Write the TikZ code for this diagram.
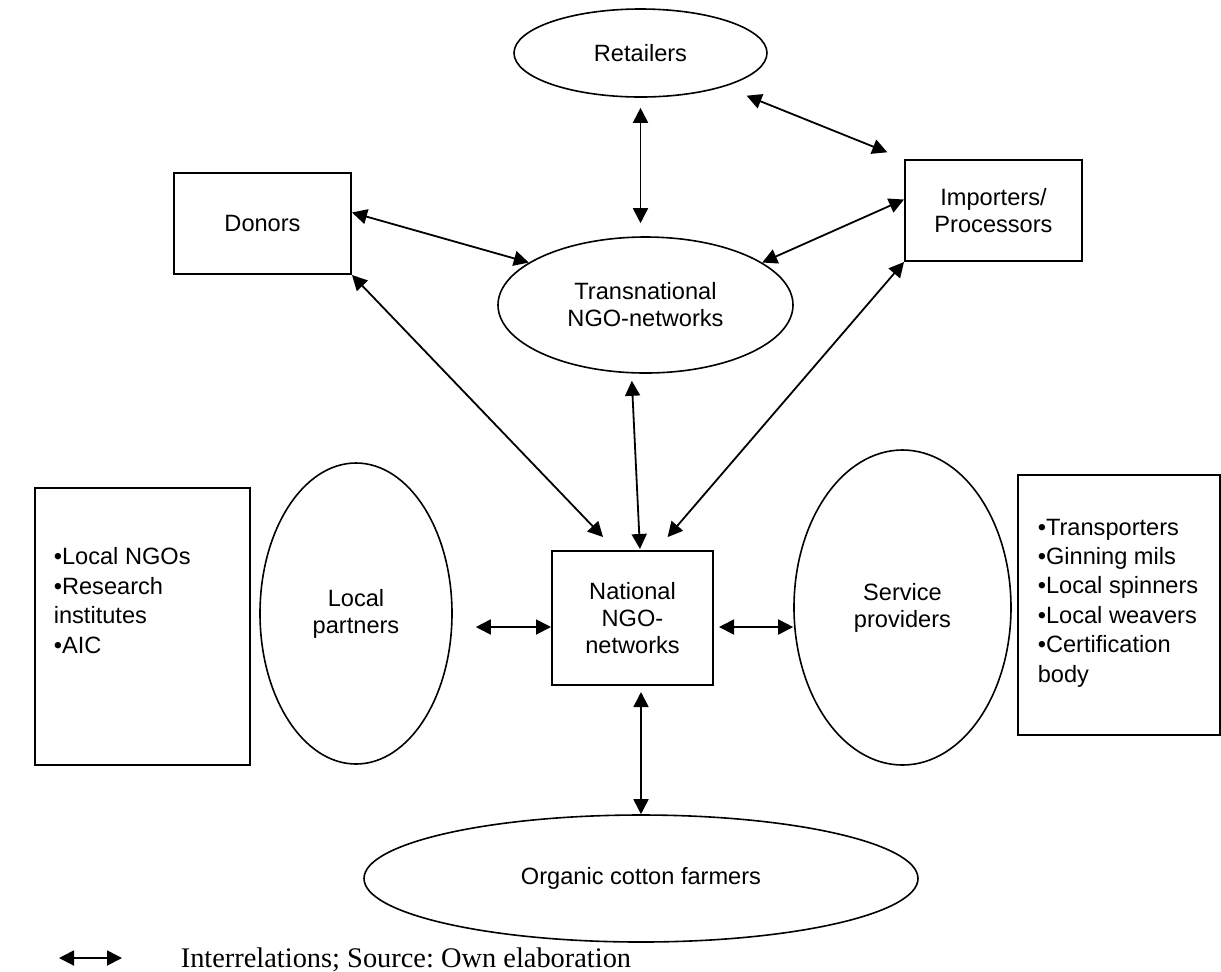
\documentclass[tikz,border=0pt]{standalone}
\usepackage{fontspec}
\setsansfont{Liberation Sans}
\newfontfamily\legendfont{Liberation Serif}
\usetikzlibrary{shapes.geometric, arrows.meta}
\newlength{\pu}
\setlength{\pu}{0.5pt}
\frenchspacing

\begin{document}
\begin{tikzpicture}[x=0.5pt, y=-0.5pt, line width=0.8pt,
      every node/.style={font=\sffamily\fontsize{11.8}{13.5}\selectfont, inner sep=0pt, align=center},
      oval node/.style={ellipse, draw},
      box node/.style={rectangle, draw, line width=1pt},
      list node/.style={align=left, font=\sffamily\fontsize{11.8}{14.7}\selectfont},
      link/.style={line width=0.9pt, {Triangle[length=7.5pt,width=7.5pt]}-{Triangle[length=7.5pt,width=7.5pt]}}]

    \useasboundingbox (0,0) rectangle (1221,971);

    % upper level
    \node[oval node, minimum width=253\pu, minimum height=88\pu] (ret) at (640.5,53) {Retailers};
    \node[box node, minimum width=177\pu, minimum height=101\pu] (don) at (262.5,223.5) {Donors};
    \node[box node, minimum width=177\pu, minimum height=101\pu] (imp) at (993.5,210.5) {Importers/\\Processors};
    \node[oval node, minimum width=295\pu, minimum height=136\pu] (trans) at (645.5,305) {Transnational\\NGO-networks};

    % middle level
    \node[box node, minimum width=215\pu, minimum height=277\pu] (locbox) at (142.5,626.5) {};
    \node[list node, anchor=north west] (loclist) at (53,547) {•Local NGOs\\•Research\\institutes\\•AIC};
    \node[oval node, minimum width=192\pu, minimum height=301\pu] (locp) at (356,613.5) {Local\\partners};
    \node[box node, minimum width=161\pu, minimum height=134\pu] (nat) at (632.5,618) {National\\NGO-\\networks};
    \node[oval node, minimum width=217\pu, minimum height=315\pu] (serv) at (902.5,607.5) {Service\\providers};
    \node[box node, minimum width=202\pu, minimum height=260\pu] (servbox) at (1119,605) {};
    \node[list node, anchor=north west] (servlist) at (1037,518) {•Transporters\\•Ginning mils\\•Local spinners\\•Local weavers\\•Certification\\body};

    % lower level
    \node[oval node, minimum width=554\pu, minimum height=127\pu] (org) at (641,878.5) {Organic cotton farmers};

    % legend
    \coordinate (keytail) at (59,958);
    \coordinate (keyhead) at (122,958);
    \node[anchor=base west, font=\legendfont\fontsize{14.2}{16}\selectfont] (key) at (180,967) {Interrelations; Source: Own elaboration};

    \coordinate (natleft) at ([yshift=-9\pu]nat.west);
    \coordinate (natright) at ([yshift=-9\pu]nat.east);

    \draw[link, shorten <=10\pu, shorten >=13\pu] (ret.south) -- (ret.south |- trans.north);
    \draw[link, shorten <=24\pu, shorten >=18\pu] (ret) -- (imp.north west);
    \draw[link] ([yshift=11\pu]imp.west) -- (trans.20);
    \draw[link] ([yshift=11\pu]don.east) -- (trans.160);
    \draw[link, shorten >=18\pu] (don.south east) -- ([xshift=-17\pu]nat.north);
    \draw[link, shorten <=7\pu, shorten >=1\pu] ([xshift=-14\pu]trans.south) -- ([xshift=7.5\pu]nat.north);
    \draw[link, shorten >=17\pu] (imp.south west) -- ([xshift=24\pu]nat.north);
    \draw[link, shorten <=23\pu] (locp.east |- natleft) -- (natleft);
    \draw[link, shorten <=5\pu] (natright) -- (serv.west |- natright);
    \draw[link, shorten <=6\pu] (org.north |- nat.south) -- (org.north);
    \draw[link] (keytail) -- (keyhead);
\end{tikzpicture}
\end{document}
